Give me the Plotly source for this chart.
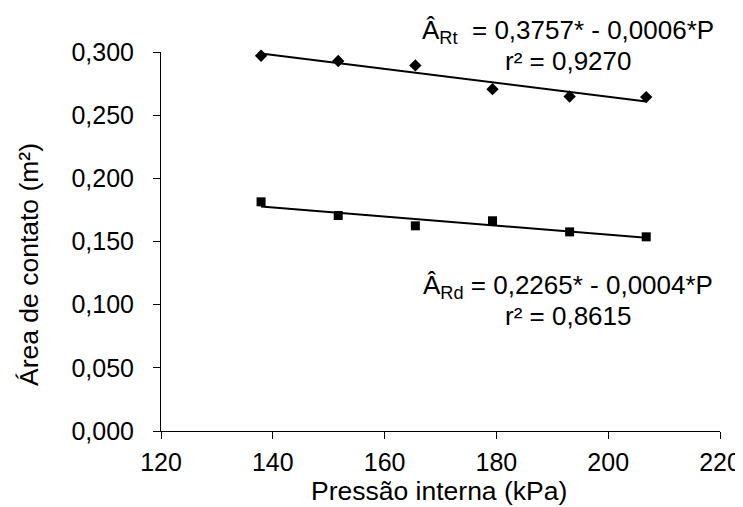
import numpy as np
import plotly.graph_objects as go

pressao = [137.9, 151.7, 165.5, 179.3, 193.1, 206.8]
area_rt = [0.2970, 0.2929, 0.2894, 0.2706, 0.2648, 0.2643]
area_rd = [0.1814, 0.1706, 0.1624, 0.1664, 0.1576, 0.1537]

eq_rt = "Â<sub>Rt</sub>  = 0,3757* - 0,0006*P"
r2_rt = "r² = 0,9270"
eq_rd = "Â<sub>Rd</sub> = 0,2265* - 0,0004*P"
r2_rd = "r² = 0,8615"

x_ticks = [120, 140, 160, 180, 200, 220]
y_ticks = [0, 0.05, 0.10, 0.15, 0.20, 0.25, 0.30]

FONT = "Liberation Sans, Arial, sans-serif"
FS = 25
# the page body adds an 8px offset, so the figure is drawn 8px smaller
OFF = 8
W, H = 743 - OFF, 507 - OFF
L, R, T, B = 161 - OFF, 23, 52 - OFF, 76

def fit(x, y):
    b, a = np.polyfit(x, y, 1)
    xs = np.array([min(x), max(x)])
    return xs, a + b * xs

def px(xp, yp):
    xp, yp = xp - OFF, yp - OFF
    return (xp - L) / (W - L - R), (H - B - yp) / (H - T - B)

fig = go.Figure()
for ys, sym, size in [(area_rt, "diamond", 9.5), (area_rd, "square", 9)]:
    lx, ly = fit(pressao, ys)
    fig.add_trace(go.Scatter(x=lx, y=ly, mode="lines",
                             line=dict(color="black", width=2),
                             showlegend=False, cliponaxis=False))
    fig.add_trace(go.Scatter(x=pressao, y=ys, mode="markers",
                             marker=dict(symbol=sym, size=size, color="black"),
                             showlegend=False, cliponaxis=False))

ann_font = dict(family=FONT, size=26, color="black")
for text, xp, yp in [(eq_rt, 568, 32), (r2_rt, 568, 61),
                     (eq_rd, 568, 286), (r2_rd, 568, 316)]:
    ax, ay = px(xp, yp)
    fig.add_annotation(text=text, x=ax, y=ay, xref="paper", yref="paper",
                       showarrow=False, font=ann_font, xanchor="center", yanchor="middle")

title_font = dict(family=FONT, size=26.5, color="black")
ax, ay = px(29, 265)
fig.add_annotation(text="Área de contato (m²)", x=ax, y=ay, xref="paper", yref="paper",
                   textangle=-90, showarrow=False, font=title_font,
                   xanchor="center", yanchor="middle")
ax, ay = px(439, 491)
fig.add_annotation(text="Pressão interna (kPa)", x=ax, y=ay, xref="paper", yref="paper",
                   showarrow=False, font=title_font, xanchor="center", yanchor="middle")

fig.update_layout(
    width=W, height=H,
    margin=dict(l=L, r=R, t=T, b=B, autoexpand=False),
    plot_bgcolor="white", paper_bgcolor="white",
    separators=",.",
    font=dict(family=FONT, size=FS, color="black"),
    xaxis=dict(range=[120, 220], tickvals=x_ticks, showgrid=False, zeroline=False,
               showline=True, linecolor="black", linewidth=1, automargin=False,
               ticks="outside", ticklen=7, tickcolor="black", ticklabelstandoff=2,
               tickfont=dict(family=FONT, size=FS, color="black")),
    yaxis=dict(range=[0, 0.3], tickvals=y_ticks, tickformat=".3f", showgrid=False,
               zeroline=False, showline=True, linecolor="black", linewidth=1,
               automargin=False,
               ticks="outside", ticklen=7, tickcolor="black", ticklabelstandoff=14,
               tickfont=dict(family=FONT, size=FS, color="black")),
)

fig.write_html("out.html")
